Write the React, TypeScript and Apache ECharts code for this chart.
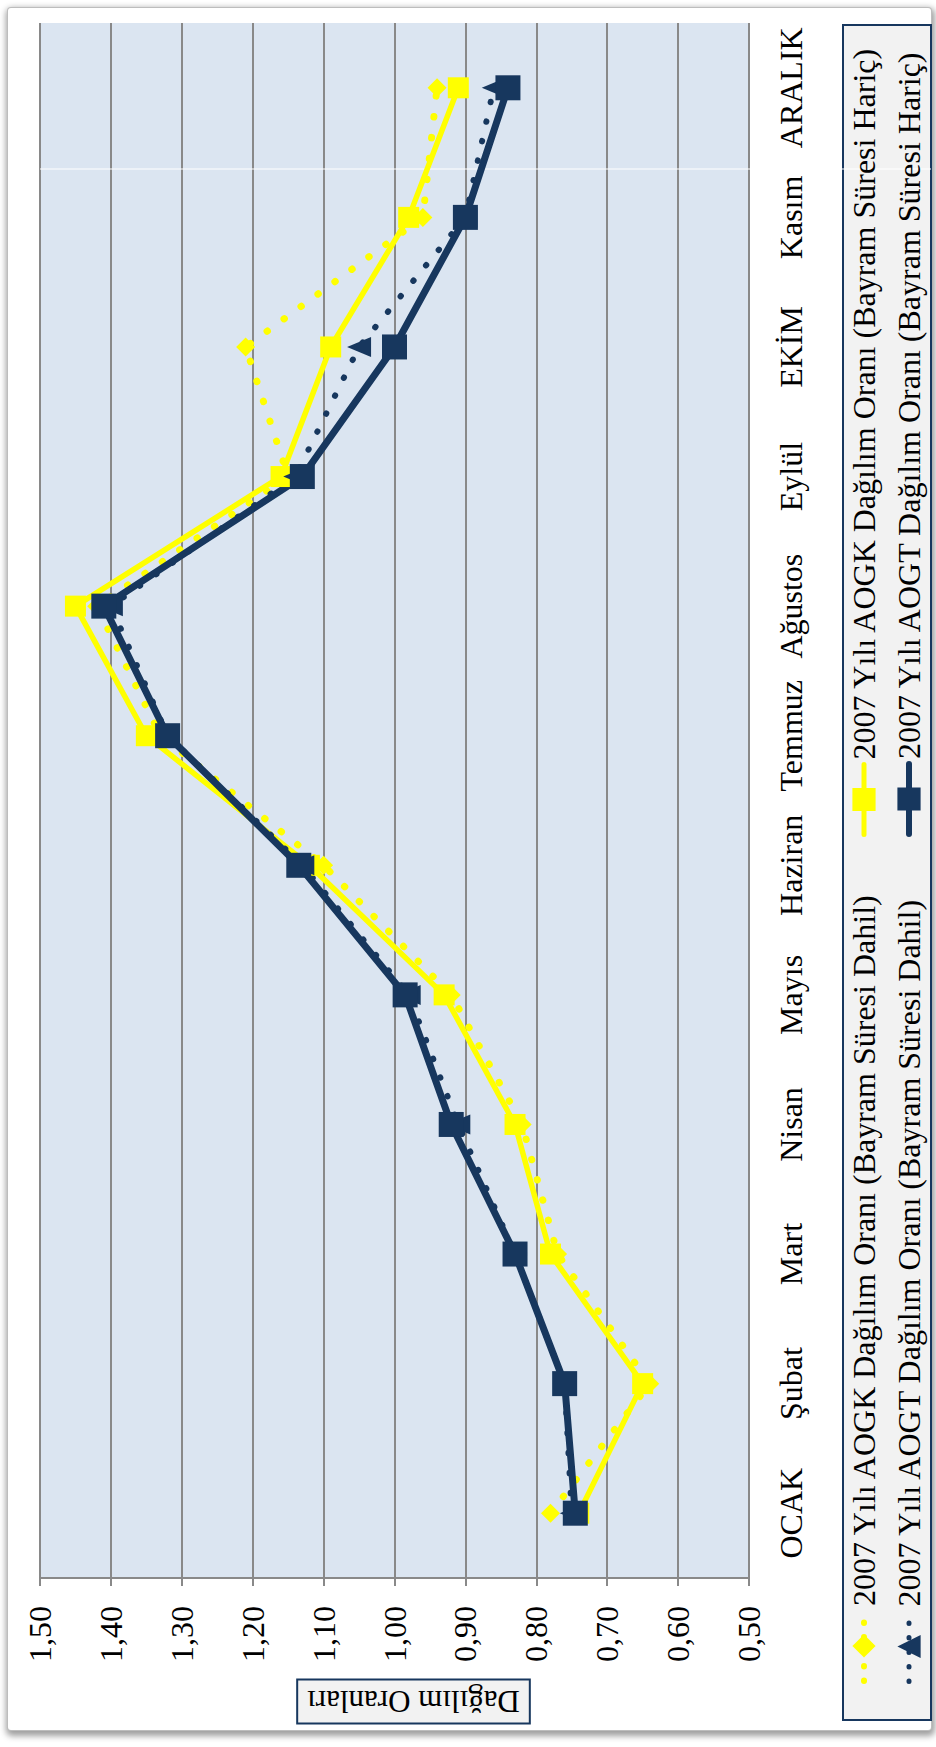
import React, { useEffect, useRef } from 'react';
import * as echarts from 'echarts';

// ---- data ----
const months = ['OCAK', 'Şubat', 'Mart', 'Nisan', 'Mayıs', 'Haziran', 'Temmuz', 'Ağustos', 'Eylül', 'EKİM', 'Kasım', 'ARALIK'];
const seriesNames = [
  '2007 Yılı AOGK Dağılım Oranı (Bayram Süresi Dahil)',
  '2007 Yılı AOGK Dağılım Oranı (Bayram Süresi Hariç)',
  '2007 Yılı AOGT Dağılım Oranı (Bayram Süresi Dahil)',
  '2007 Yılı AOGT Dağılım Oranı (Bayram Süresi Hariç)',
];
const aogkDahil = [0.78, 0.64, 0.77, 0.82, 0.92, 1.10, 1.33, 1.42, 1.15, 1.21, 0.96, 0.94];
const aogkHaric = [0.74, 0.65, 0.78, 0.83, 0.93, 1.12, 1.35, 1.45, 1.16, 1.09, 0.98, 0.91];
const aogtDahil = [0.75, 0.76, 0.83, 0.91, 0.98, 1.13, 1.32, 1.40, 1.14, 1.05, 0.90, 0.86];
const aogtHaric = [0.745, 0.76, 0.83, 0.92, 0.985, 1.135, 1.32, 1.41, 1.13, 1.00, 0.90, 0.84];
const axisMin = 0.5;
const axisMax = 1.5;
const axisStep = 0.1;
const axisTitle = 'Dağılım Oranları';

const FONT = "'Liberation Serif', 'Times New Roman', serif";
const YELLOW = '#FFFF00';
const NAVY = '#17375E';
const GRIDC = '#898989';
const W = 1747; // landscape width (page height)
const H = 936; // landscape height (page width)

const legendPos = [
  { left: 63, top: 848 },
  { left: 910, top: 848 },
  { left: 63, top: 893 },
  { left: 910, top: 893 },
];

const seriesStyles = [
  { symbol: 'diamond', symbolSize: 19, color: YELLOW, line: { color: YELLOW, width: 7, type: [0.5, 20.5], cap: 'round' } },
  { symbol: 'rect', symbolSize: 21, color: YELLOW, line: { color: YELLOW, width: 5.5 } },
  { symbol: 'triangle', symbolSize: [20, 24], color: NAVY, line: { color: NAVY, width: 6, type: [0.5, 19.5], cap: 'round' } },
  { symbol: 'rect', symbolSize: 25, color: NAVY, line: { color: NAVY, width: 7 } },
];
const legendLine = [
  { color: YELLOW, width: 6, type: [0.5, 14], cap: 'round' },
  { color: YELLOW, width: 5, cap: 'round' },
  { color: NAVY, width: 5, type: [0.5, 14], cap: 'round' },
  { color: NAVY, width: 6, cap: 'round' },
];

function buildOption() {
  const textStyle = { fontSize: 32, fontFamily: FONT, color: '#000', lineHeight: 32 };
  const data = [aogkDahil, aogkHaric, aogtDahil, aogtHaric];
  return {
    animation: false,
    backgroundColor: 'transparent',
    grid: {
      left: 169,
      top: 40,
      width: 1555,
      height: 709,
      show: true,
      backgroundColor: '#DBE5F1',
      borderWidth: 0,
      containLabel: false,
    },
    xAxis: {
      type: 'category',
      data: months,
      boundaryGap: true,
      axisLine: { show: false },
      axisTick: { show: false },
      splitLine: { show: false },
      axisLabel: { interval: 0, margin: 26, fontSize: 32, fontFamily: FONT, color: '#000' },
    },
    yAxis: {
      type: 'value',
      min: axisMin,
      max: axisMax,
      interval: axisStep,
      axisLine: { show: true, lineStyle: { color: GRIDC, width: 2 } },
      axisTick: { show: true, length: 8, lineStyle: { color: GRIDC, width: 2 } },
      splitLine: { show: true, lineStyle: { color: GRIDC, width: 2 } },
      axisLabel: {
        margin: 28,
        fontSize: 32,
        fontFamily: FONT,
        color: '#000',
        formatter: (v: number) => v.toFixed(2).replace('.', ','),
      },
    },
    legend: seriesNames.map((n, i) => ({
      data: [n],
      left: legendPos[i].left,
      top: legendPos[i].top,
      orient: 'horizontal',
      padding: 0,
      itemGap: 0,
      itemWidth: 70,
      itemHeight: 29,
      selectedMode: false,
      lineStyle: legendLine[i],
      itemStyle: { color: seriesStyles[i].color, borderWidth: 0 },
      textStyle,
    })),
    graphic: [
      {
        type: 'rect',
        z: 0,
        shape: { x: 27, y: 843, width: 1695, height: 88 },
        style: { fill: '#F2F2F2', stroke: NAVY, lineWidth: 2 },
      },
      {
        type: 'line',
        z: 1,
        shape: { x1: 1578, y1: 40, x2: 1578, y2: 931 },
        style: { stroke: '#FFFFFF', lineWidth: 1.2 },
      },
      {
        type: 'text',
        z: 5,
        x: 45.5,
        y: 413.5,
        rotation: Math.PI / 2,
        style: {
          text: axisTitle,
          x: 0,
          y: 0,
          align: 'center',
          verticalAlign: 'middle',
          fontSize: 31,
          fontFamily: FONT,
          fill: '#000',
          backgroundColor: '#F2F2F2',
          borderColor: NAVY,
          borderWidth: 2,
          padding: [6, 9, 5, 9],
        },
      },
    ],
    series: seriesNames.map((n, i) => ({
      name: n,
      type: 'line',
      data: data[i],
      symbol: seriesStyles[i].symbol,
      symbolSize: seriesStyles[i].symbolSize,
      itemStyle: { color: seriesStyles[i].color },
      lineStyle: seriesStyles[i].line,
    })),
  };
}

export default function App() {
  const ref = useRef<HTMLDivElement>(null);
  useEffect(() => {
    if (!ref.current) return;
    const chart = echarts.init(ref.current, null, { renderer: 'svg', width: W, height: H });
    chart.setOption(buildOption() as any);
    return () => chart.dispose();
  }, []);
  return (
    <div
      style={{
        position: 'absolute',
        left: 0,
        top: 0,
        width: 936,
        height: 1747,
        overflow: 'hidden',
        background: '#ffffff',
      }}
    >
      <div
        style={{
          position: 'absolute',
          left: 8,
          top: 8,
          width: 923,
          height: 1722,
          background: '#ffffff',
          borderRadius: 3,
          boxShadow: '0 0 0 1px #bdbdbd, 1px 3px 6px 3px rgba(0,0,0,0.38)',
        }}
      />
      <div
        ref={ref}
        style={{
          position: 'absolute',
          left: 0,
          top: 0,
          width: W,
          height: H,
          transformOrigin: '0 0',
          transform: `translate(0px, ${W}px) rotate(-90deg)`,
        }}
      />
    </div>
  );
}
